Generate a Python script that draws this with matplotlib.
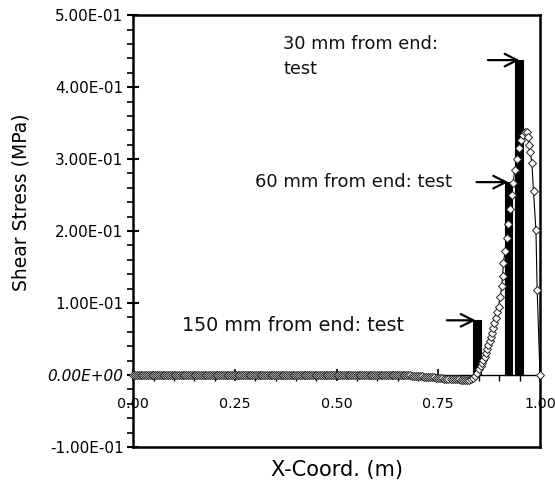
import numpy as np
import matplotlib
matplotlib.use("Agg")
import matplotlib.pyplot as plt
from matplotlib.ticker import MultipleLocator, FixedLocator

plt.rcParams['font.family'] = ['DejaVu Sans']

# --- FE analysis (open diamonds) ---
x_flat = np.linspace(0.0, 0.68, 152)          # mesh nodes, value read as 0
y_flat = np.zeros_like(x_flat)
x_dip = [0.685, 0.69, 0.695, 0.70, 0.705, 0.71, 0.715, 0.72, 0.725, 0.73, 0.735,
         0.74, 0.745, 0.75, 0.755, 0.76, 0.765, 0.77, 0.775, 0.78, 0.785, 0.79,
         0.795, 0.80, 0.805, 0.81, 0.815, 0.82, 0.825, 0.83, 0.835, 0.84, 0.845]
y_dip = [-0.001, -0.001, -0.002, -0.002, -0.002, -0.002, -0.003, -0.003, -0.003,
         -0.003, -0.003, -0.003, -0.004, -0.004, -0.004, -0.004, -0.005, -0.005,
         -0.005, -0.005, -0.006, -0.006, -0.006, -0.006, -0.007, -0.007, -0.007,
         -0.007, -0.007, -0.006, -0.004, -0.001, 0.003]
x_rise = [0.850, 0.854, 0.857, 0.861, 0.864, 0.867, 0.870, 0.873, 0.876, 0.879,
          0.882, 0.885, 0.888, 0.891, 0.894, 0.898, 0.902, 0.906, 0.908, 0.910,
          0.914, 0.918, 0.922, 0.926, 0.930, 0.934, 0.938, 0.943, 0.948, 0.953,
          0.958, 0.963, 0.967, 0.970, 0.973, 0.976, 0.980, 0.984, 0.990, 0.993,
          1.000]
y_rise = [0.008, 0.012, 0.017, 0.021, 0.025, 0.030, 0.036, 0.042, 0.047, 0.053,
          0.059, 0.065, 0.072, 0.079, 0.087, 0.095, 0.108, 0.123, 0.138, 0.155,
          0.172, 0.190, 0.210, 0.230, 0.250, 0.267, 0.285, 0.300, 0.315, 0.326,
          0.334, 0.337, 0.338, 0.330, 0.320, 0.310, 0.294, 0.255, 0.201, 0.118,
          0.000]

# --- test results (solid bars) ---
bar_left = [0.835, 0.914, 0.939]
bar_right = [0.855, 0.932, 0.957]
bar_height = [0.076, 0.268, 0.4375]

labels = ["150 mm from end: test", "60 mm from end: test", "30 mm from end:\ntest"]
label_xy = [(0.12, 0.069), (0.30, 0.268), (0.369, 0.443)]
label_size = [13.8, 13, 12.8]
arrow_from = [(0.771, 0.076), (0.844, 0.268), (0.872, 0.4375)]
arrow_to = [(0.842, 0.076), (0.922, 0.268), (0.950, 0.4375)]

yticks = [-0.1, 0.0, 0.1, 0.2, 0.3, 0.4, 0.5]
xticks = [0.0, 0.25, 0.5, 0.75, 1.0]
xticklabels = ["0.00", "0.25", "0.50", "0.75", "1.00"]

fig = plt.figure(figsize=(5.55, 4.88), dpi=100)
ax = fig.add_axes([0.240, 0.084, 0.733, 0.885])

widths = [r - l for l, r in zip(bar_left, bar_right)]
ax.bar(bar_left, bar_height, width=widths, align='edge', color='black',
       edgecolor='black', linewidth=0.8, zorder=2)

x_all = np.concatenate([x_flat, x_dip, x_rise])
y_all = np.concatenate([y_flat, y_dip, y_rise])
ax.plot(x_all, y_all, color='black', lw=0.8, marker='D', markersize=3.8,
        markerfacecolor='white', markeredgecolor='#222222', markeredgewidth=0.7,
        zorder=3, clip_on=False)

for txt, (tx, ty), fs in zip(labels, label_xy, label_size):
    ax.text(tx, ty, txt, fontsize=fs, ha='left', va='center', linespacing=1.5,
            color='#111111')
for (fx, fy), (tx, ty) in zip(arrow_from, arrow_to):
    ax.annotate('', xy=(tx, ty), xytext=(fx, fy),
                arrowprops=dict(arrowstyle='->,head_length=0.9,head_width=0.45',
                                lw=1.6, color='black', shrinkA=0, shrinkB=0))

ax.set_xlim(0, 1.0)
ax.set_ylim(-0.1, 0.5)

for s in ['left', 'right', 'top']:
    ax.spines[s].set_linewidth(1.8)
ax.spines['bottom'].set_position(('data', 0))
ax.spines['bottom'].set_linewidth(1.0)
ax.axhline(-0.1, color='black', lw=1.8, clip_on=False, zorder=4)

ax.yaxis.set_major_locator(FixedLocator(yticks))
ax.yaxis.set_minor_locator(MultipleLocator(0.02))
ylabels = [f"{v:.2E}" for v in yticks]
ax.set_yticklabels(ylabels)
ax.xaxis.set_major_locator(FixedLocator(xticks))
ax.xaxis.set_minor_locator(MultipleLocator(0.05))
ax.set_xticklabels(xticklabels)

ax.tick_params(axis='y', which='major', direction='inout', length=8, width=1.5,
               labelsize=11, pad=3)
ax.tick_params(axis='y', which='minor', direction='out', length=4, width=1.2)
ax.tick_params(axis='x', which='major', direction='inout', length=8, width=1.2,
               labelsize=10.3, pad=12)
ax.tick_params(axis='x', which='minor', direction='out', length=4, width=1.0)

for lab in ax.get_yticklabels():
    if lab.get_text().startswith("0.00E"):
        lab.set_fontstyle('italic')

fig.text(0.607, 0.037, "X-Coord. (m)", fontsize=15, ha='center', va='center')
fig.text(0.037, 0.585, "Shear Stress (MPa)", fontsize=13.5, ha='center',
         va='center', rotation=90)

fig.savefig("out.png", dpi=100)
